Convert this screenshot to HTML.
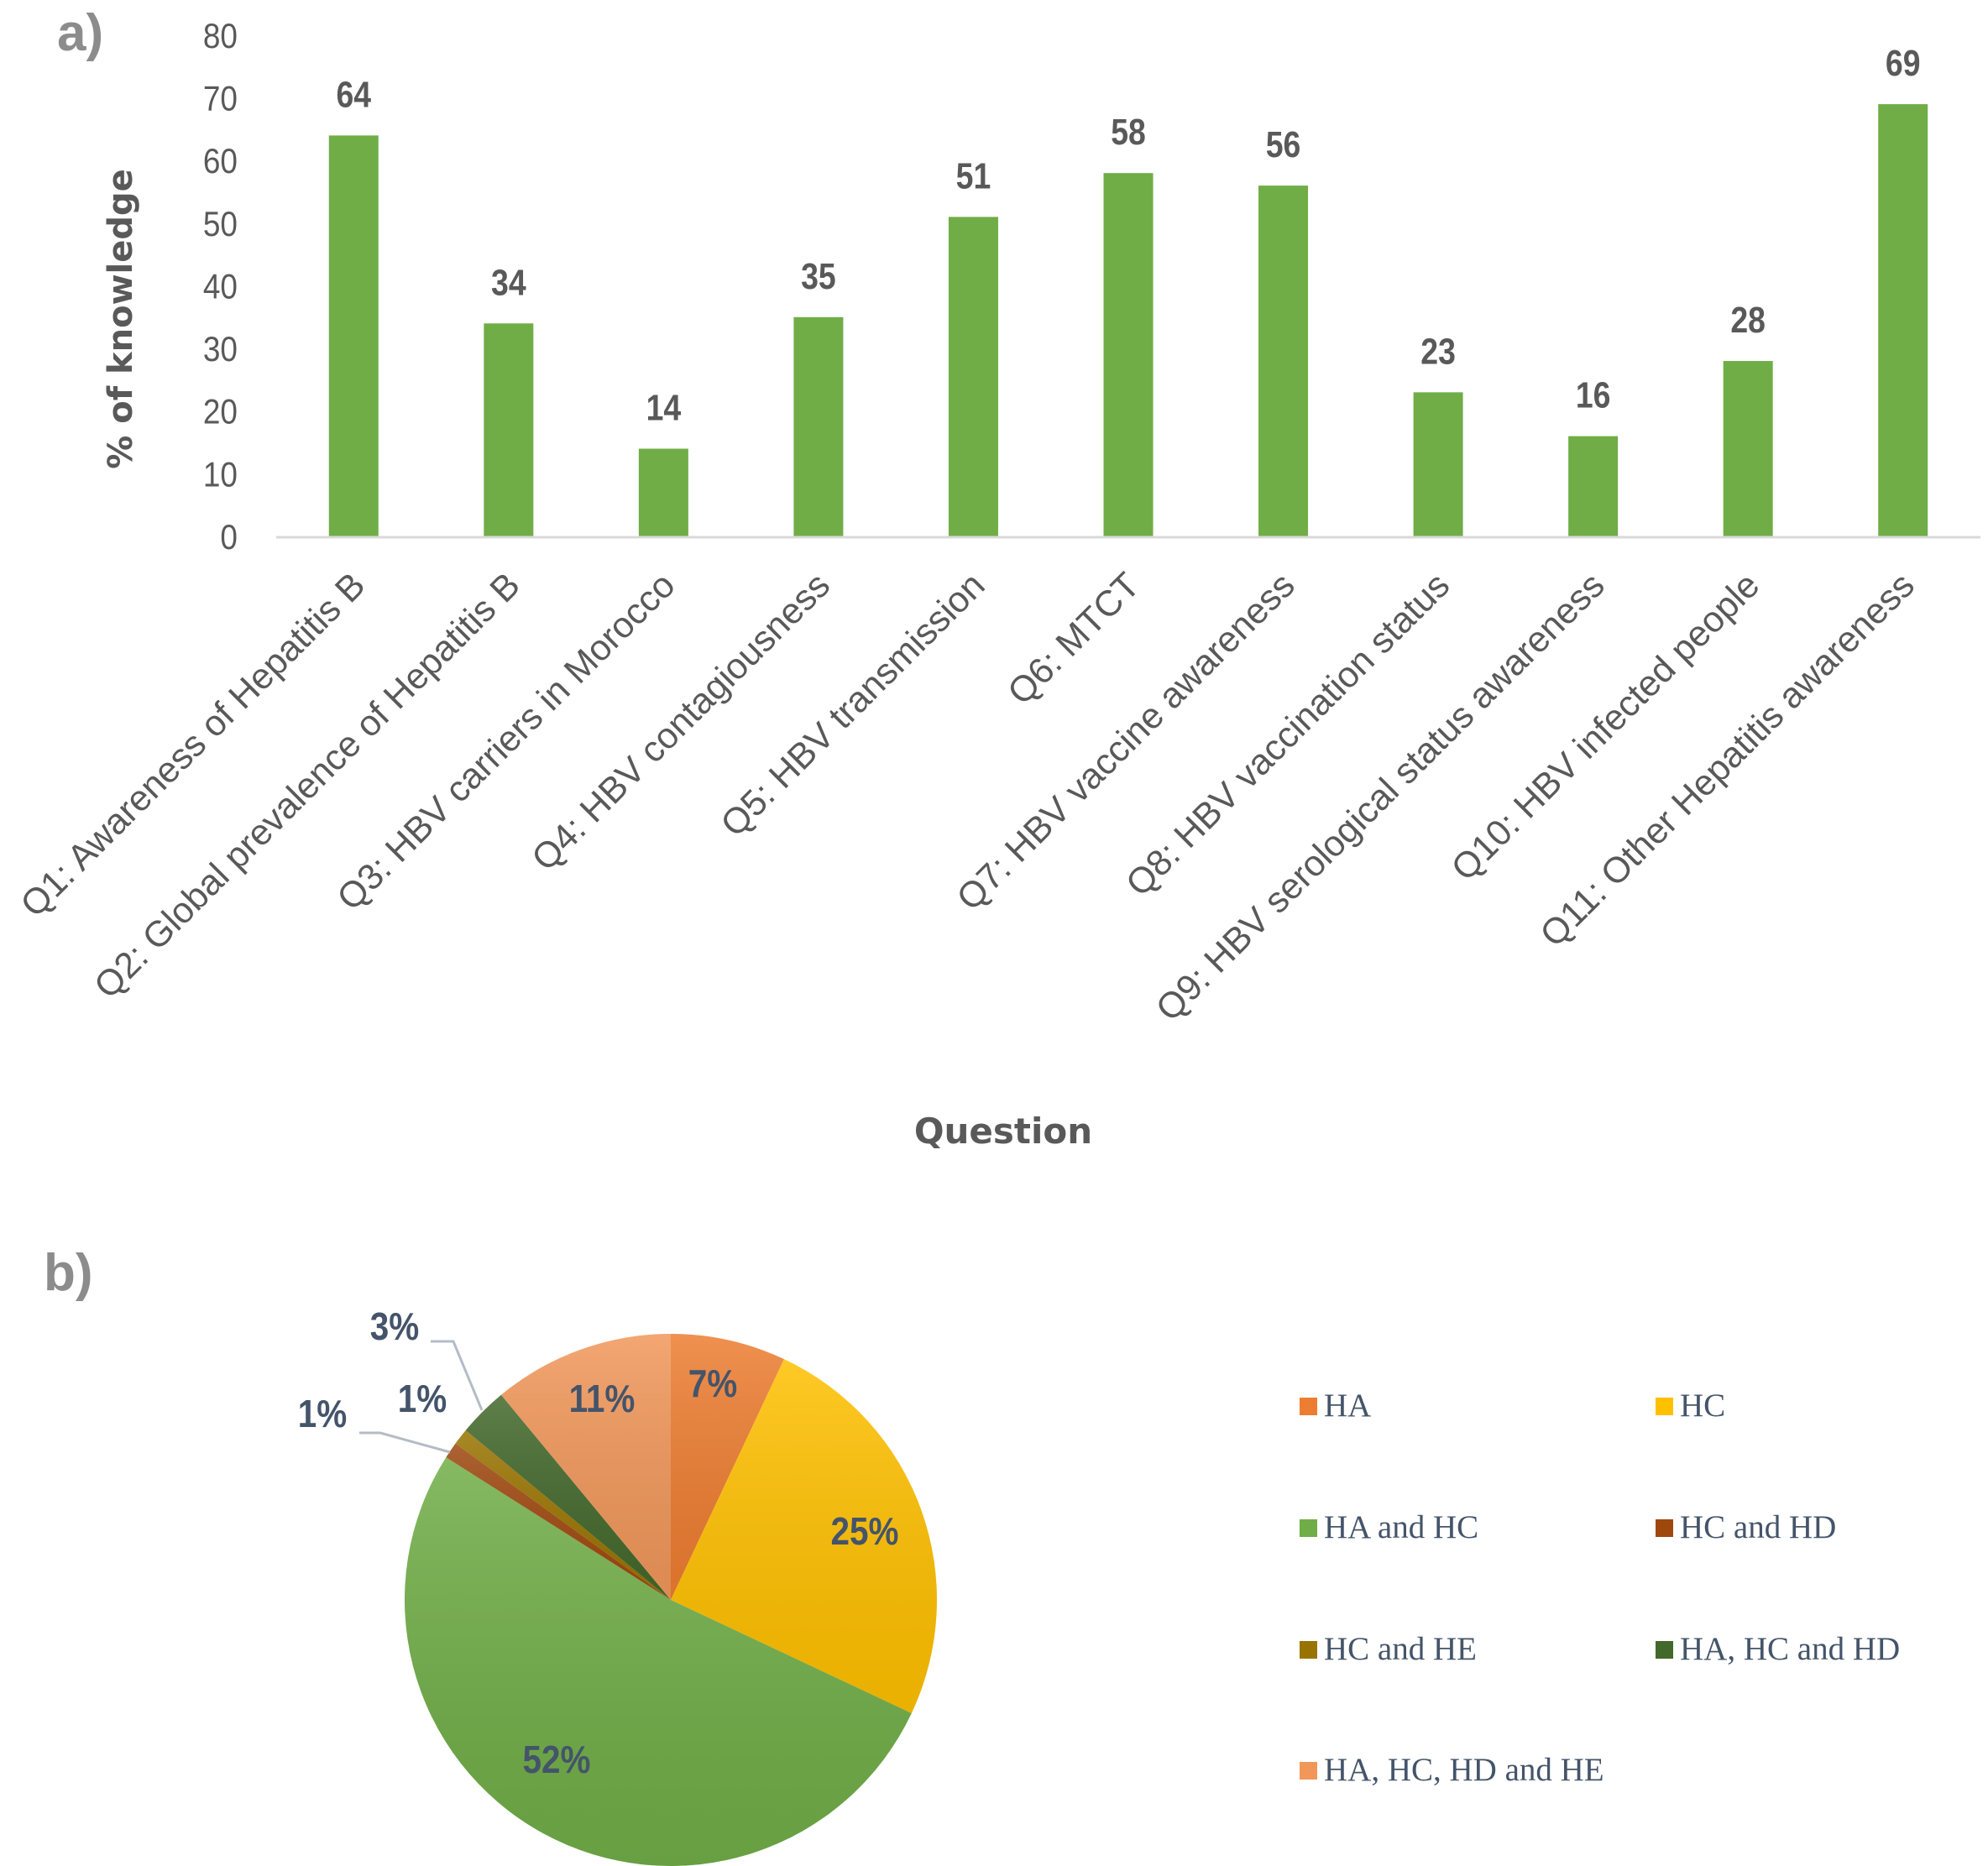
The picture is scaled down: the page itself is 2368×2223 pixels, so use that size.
<!DOCTYPE html>
<html><head><meta charset="utf-8"><style>
html,body{margin:0;padding:0;background:#fff}
svg{display:block}
</style></head><body>
<svg id="fig" width="2368" height="2223" viewBox="0 0 2368 2223" xmlns="http://www.w3.org/2000/svg">
<defs>
<linearGradient id="shade" x1="0" y1="0" x2="0" y2="1">
<stop offset="0" stop-color="#fff" stop-opacity="0.15"/>
<stop offset="1" stop-color="#000" stop-opacity="0.08"/>
</linearGradient>
</defs>
<text x="68" y="60" font-family="Liberation Sans Narrow, Liberation Sans, sans-serif" font-weight="bold" font-size="62" fill="#8c8c8c">a)</text>
<text x="52" y="1537" font-family="Liberation Sans Narrow, Liberation Sans, sans-serif" font-weight="bold" font-size="62" fill="#8c8c8c">b)</text>
<g id="bar"></g>
<g id="pie"></g>
</svg>
<script>
const categories = ["Q1: Awareness of Hepatitis B","Q2: Global prevalence of Hepatitis B","Q3: HBV carriers in Morocco","Q4: HBV contagiousness","Q5: HBV transmission","Q6: MTCT","Q7: HBV vaccine awareness","Q8: HBV vaccination status","Q9: HBV serological status awareness","Q10: HBV infected people","Q11: Other Hepatitis awareness"];
const values = [64,34,14,35,51,58,56,23,16,28,69];
const yTicks = [0,10,20,30,40,50,60,70,80];

const pieLabels = ["HA","HC","HA and HC","HC and HD","HC and HE","HA, HC and HD","HA, HC, HD and HE"];
const pieValues = [7,25,52,1,1,3,11];
const pieColors = ["#ED7D31","#FFC000","#70AD47","#9E480E","#997300","#43682B","#F1975A"];

const NS="http://www.w3.org/2000/svg";
function mk(tag,attrs,parent,text){const e=document.createElementNS(NS,tag);for(const k in attrs)e.setAttribute(k,attrs[k]);if(text!==undefined)e.textContent=text;parent.appendChild(e);return e;}

// ---- bar chart ----
const bar=document.getElementById('bar');
const plotL=329, plotR=2359, y0=639, yTop=42, yMax=80;
const band=(plotR-plotL)/categories.length;
const yS=v=>y0-(v/yMax)*(y0-yTop);
const xC=i=>plotL+band*(i+0.5);
const NARROW="Liberation Sans Narrow, Liberation Sans, sans-serif";

yTicks.forEach(t=>{
  const e=mk('text',{x:283,y:yS(t)+15,'text-anchor':'end','font-family':NARROW,'font-size':42,fill:'#595959',transform:'translate(283,0) scale(0.88,1) translate(-283,0)'},bar,String(t));
  
  
});
const yt=mk('text',{x:0,y:0,transform:'translate(157,380) rotate(-90)','text-anchor':'middle','font-family':'DejaVu Sans, sans-serif','font-weight':'bold','font-size':40,fill:'#595959'},bar,'% of knowledge');



values.forEach((v,i)=>{
  const bw=59;
  const r=mk('rect',{x:xC(i)-bw/2,y:yS(v),width:bw,height:y0-yS(v),fill:'#70AD47'},bar);
  
  
  const l=mk('text',{x:0,y:0,transform:'translate('+xC(i)+','+(yS(v)-34)+') scale(0.85,1)','text-anchor':'middle','font-family':NARROW,'font-weight':'bold','font-size':44,fill:'#595959'},bar,String(v));
  
  
  const c=mk('text',{x:0,y:0,transform:'translate('+(xC(i)+16)+',700) rotate(-45)','text-anchor':'end','font-family':'Liberation Sans, sans-serif','font-size':43,fill:'#595959'},bar,categories[i]);
  
  
});
const ax=mk('line',{x1:plotL,y1:y0+1,x2:plotR,y2:y0+1,stroke:'#d9d9d9','stroke-width':3},bar);


const xt=mk('text',{x:1195,y:1362,'text-anchor':'middle','font-family':'DejaVu Sans, sans-serif','font-weight':'bold','font-size':42,fill:'#595959'},bar,'Question');



// ---- pie chart ----
const pie=document.getElementById('pie');
const cx=799, cy=1906, R=317;
const total=pieValues.reduce((a,b)=>a+b,0);
let acc=0;
const pt=(a,r)=>[cx+r*Math.sin(a),cy-r*Math.cos(a)];
const labelPos=[[849,1664],[1030,1840],[663,2112],[384,1700],[503,1682],[470,1596],[717,1682]];
pieValues.forEach((v,i)=>{
  const a0=acc/total*2*Math.PI; acc+=v; const a1=acc/total*2*Math.PI;
  const p0=pt(a0,R), p1=pt(a1,R);
  const large=(a1-a0)>Math.PI?1:0;
  const d='M'+cx+','+cy+' L'+p0[0]+','+p0[1]+' A'+R+','+R+' 0 '+large+' 1 '+p1[0]+','+p1[1]+' Z';
  const s=mk('path',{d:d,fill:pieColors[i]},pie);
  
  
  const sh=mk('path',{d:d,fill:'url(#shade)'},pie);
  
  
});
// leader lines
const l1=mk('polyline',{points:'513,1598 540,1598 574,1680',fill:'none',stroke:'#b4bcc6','stroke-width':3},pie);


const l2=mk('polyline',{points:'428,1707 453,1707 536,1730',fill:'none',stroke:'#b4bcc6','stroke-width':3},pie);


pieValues.forEach((v,i)=>{
  const t=mk('text',{x:0,y:0,transform:'translate('+labelPos[i][0]+','+labelPos[i][1]+') scale(0.88,1)','text-anchor':'middle','font-family':NARROW,'font-weight':'bold','font-size':46,fill:'#44546A'},pie,Math.round(v/total*100)+'%');
  
  
});
// legend
const legX=[1548,1972], legY=[1687,1832,1977,2121];
pieLabels.forEach((lab,i)=>{
  const x=legX[i%2], y=legY[Math.floor(i/2)];
  const g=mk('g',{},pie);
  
  
  const m=mk('rect',{x:x,y:y-22,width:21,height:21,fill:pieColors[i]},g);
  
  
  const t=mk('text',{x:x+29,y:y,'font-family':'Liberation Serif, serif','font-size':39,fill:'#44546A'},g,lab);
  
  
});
</script>
</body></html>
